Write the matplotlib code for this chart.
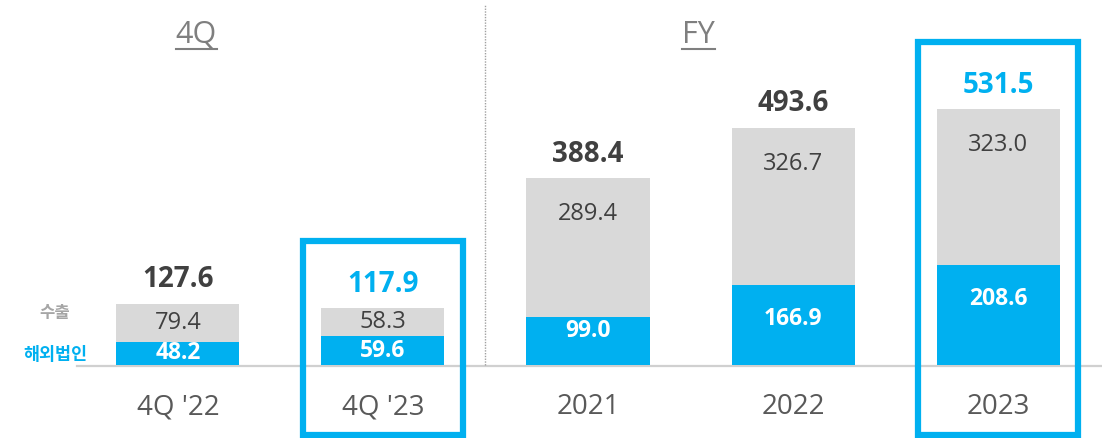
import matplotlib
matplotlib.use('Agg')
import matplotlib.pyplot as plt
from matplotlib.patches import Rectangle
from matplotlib.lines import Line2D

plt.rcParams['font.family'] = ['Open Sans', 'Noto Sans CJK KR', 'DejaVu Sans']

categories = ["4Q '22", "4Q '23", '2021', '2022', '2023']
overseas = [48.2, 59.6, 99.0, 166.9, 208.6]   # 해외법인
exports = [79.4, 58.3, 289.4, 326.7, 323.0]   # 수출
totals = [127.6, 117.9, 388.4, 493.6, 531.5]
highlight = [False, True, False, False, True]
groups = ['4Q', 'FY']

BLUE = '#00B0F0'
GRAY = '#D9D9D9'
DARK = '#404040'

fig = plt.figure(figsize=(11.02, 4.38), dpi=100)
ax = fig.add_axes([0, 0, 1, 1])
ax.set_xlim(-0.868, 4.507)
ax.set_ylim(-151.8, 758.8)
ax.axis('off')

PX = 1 / 0.481  # data units per pixel (vertical)


def label_y(bottom, height, max_off):
    # label sits near the top of the segment; short segments get it centred
    h = height / PX
    if h < 40:
        off = h / 2
    else:
        off = min(max_off, max(14, h - 34))
    return bottom + height - off * PX


x = list(range(len(categories)))
ax.bar(x, overseas, width=0.6, color=BLUE, zorder=2)
ax.bar(x, exports, width=0.6, bottom=overseas, color=GRAY, zorder=2)

# baseline
ax.plot([-0.49, 4.507], [-2, -2], color='#D0D0D0', lw=1.6, zorder=1)

for i in x:
    ax.text(i, label_y(0, overseas[i], 34), f'{overseas[i]:.1f}', ha='center', va='center',
            color='white', fontsize=16.5, fontweight='bold', zorder=3)
    ax.text(i, label_y(overseas[i], exports[i], 36), f'{exports[i]:.1f}', ha='center', va='center',
            color=DARK, fontsize=17, zorder=3)
    ax.text(i, totals[i] + 24 * PX, f'{totals[i]:.1f}', ha='center', va='center',
            color=BLUE if highlight[i] else DARK, fontsize=20, fontweight='bold', zorder=3)
    ax.text(i, -88, categories[i], ha='center', va='center', color='#595959', fontsize=20)
    if highlight[i]:
        top = totals[i] + 67 * PX
        ax.add_patch(Rectangle((i - 0.39, -146), 0.78, top + 146,
                               fill=False, edgecolor=BLUE, lw=4.5, zorder=4))

# separator between 4Q and FY
ax.plot([1.5, 1.5], [0, 750], color='#A0A0A0', lw=1, ls=(0, (1, 1)), zorder=1)

# group headers with underline
fig.canvas.draw()
renderer = fig.canvas.get_renderer()
for gx, label in zip([0.09, 2.54], groups):
    t = ax.text(gx, 686, label, ha='center', va='center', color='#7F7F7F', fontsize=22)
    bb = t.get_window_extent(renderer=renderer)
    y0 = bb.y0 + 1
    fig.add_artist(Line2D([bb.x0 / fig.bbox.width, bb.x1 / fig.bbox.width],
                          [y0 / fig.bbox.height, y0 / fig.bbox.height],
                          color='#7F7F7F', lw=1.5))

# series labels
ax.text(-0.6, overseas[0] + exports[0] / 2 + 20, '수출', ha='center', va='center',
        color='#A6A6A6', fontsize=12, fontweight='bold')
ax.text(-0.6, overseas[0] / 2 - 4, '해외법인', ha='center', va='center',
        color=BLUE, fontsize=12.5, fontweight='bold')

fig.savefig('out.png', dpi=100)
